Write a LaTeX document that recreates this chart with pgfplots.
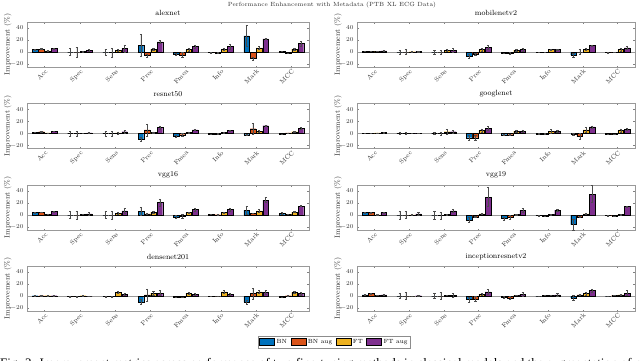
\documentclass[border=0pt]{standalone}
\usepackage{pgfplots}
\pgfplotsset{compat=1.18}
\usepackage{pgfplotstable}
\usepackage{fontspec}
\newfontfamily\capfont{Liberation Serif}

\definecolor{cBN}{RGB}{0,114,189}
\definecolor{cBNa}{RGB}{217,83,25}
\definecolor{cFT}{RGB}{237,177,32}
\definecolor{cFTa}{RGB}{126,47,142}

% columns: category, value and error for BN, BN aug, FT, FT aug
\pgfplotstableread{
x bn bne bna bnae ft fte fta ftae
1 4 0.5 5 1 2 0.5 6 1
2 0 6 0 8 1 0.5 3 2
3 0 5 -1 8 3 2 6 6
4 11 18 -6 2 5 2 17 3
5 -4 2 -5 4 4 2 9 3
6 -1 0.5 -1.5 0.5 5 2 9 4
7 27 17 -11 3 7 2 22 1
8 1.5 0.5 -2 0.5 5 2 14 4
}\alexnet
\pgfplotstableread{
x bn bne bna bnae ft fte fta ftae
1 1 0.3 1.5 0.3 1 0.3 2 0.5
2 0 3 0 4 0.5 0.3 1 1
3 0 3 0 3 3 1 3 3
4 -7 3 -4 2 4 2 8 3
5 -2 0.5 -2 1 3 1 4 2
6 -0.5 0.3 -0.5 0.3 4 1 4 1
7 -5 3 0 4 5 2 11 1
8 -1 0.3 -0.5 0.3 4 2 7 2
}\mobilenet
\pgfplotstableread{
x bn bne bna bnae ft fte fta ftae
1 2 0.5 3 0.5 1 0.3 4 0.5
2 0 4 0 4 0.5 0.3 1 1
3 0 4 0 4 1 2 3 2
4 -9 3 6 10 2 1 10 2
5 -4 2 -2 2 2 1 6 1
6 -1 0.3 -0.5 0.3 2 1 5 1
7 -2 0.5 8 9 4 1 13 1
8 -1 0.3 1 0.3 3 1 9 1
}\resnet
\pgfplotstableread{
x bn bne bna bnae ft fte fta ftae
1 0.5 0.3 0.5 0.3 1 0.3 1.5 0.3
2 0 1.5 0 1.5 0.5 0.3 0.5 0.3
3 0 1.5 0 2 3 4 3 2
4 -7 4 -7 4 5 3 9 3
5 -2 0.5 -2 0.5 4 2 4 2
6 -0.5 0.3 -0.5 0.3 4 3 4 2
7 -1 2 -5 5 6 4 11 2
8 -1 0.3 -1.5 0.3 5 3 7 2
}\googlenet
\pgfplotstableread{
x bn bne bna bnae ft fte fta ftae
1 4 0.5 5 0.5 1.5 0.3 6 0.5
2 0 6 0 7 1 0.3 2 2
3 0 6 0 7 3 1 7 4
4 6 7 2 0.5 5 2 21 6
5 -3 3 -2 3 4 1 9 2
6 1 0.3 0.5 0.3 4 1 9 2
7 8 7 3 0.5 7 2 25 4
8 3 2 1 0.3 5 1 15 1
}\vggA
\pgfplotstableread{
x bn bne bna bnae ft fte fta ftae
1 4 1 4 1 0.3 0.3 4 0.5
2 0 7 0 6 0.3 0.3 2 2
3 0 7 -1 6 1 0.5 7 3
4 -8 4 -3 1 2 1 30 16
5 -6 3 -4 3 1 0.5 8 3
6 -1 0.3 -1.5 0.3 1 0.5 8 2
7 -16 9 -3 1 2 0.5 35 14
8 -1 0.3 -2 0.3 1 0.5 14 1
}\vggB
\pgfplotstableread{
x bn bne bna bnae ft fte fta ftae
1 0.5 0.3 0.5 0.3 0.5 0.3 0.5 0.3
2 -1 0.3 -1 0.3 0.5 0.3 0 0.3
3 -1 0.3 -1 0.3 6 2 3 2
4 -10 4 2 10 5 3 5 4
5 -2 0.3 -2 0.3 5 2 3 1
6 -0.5 0.3 0 0.3 7 2 3 2
7 -10 3 4 9 7 3 6 3
8 -2 0.3 0.5 0.3 6 2 4 2
}\densenet
\pgfplotstableread{
x bn bne bna bnae ft fte fta ftae
1 2 0.5 4 1 1 0.3 2 0.3
2 0 4 0 6 0 0.3 0.5 1
3 0 4 0 6 1 0.3 1 3
4 -6 4 -5 4 3 1 7 4
5 -2 2 -3 3 1 0.3 3 3
6 0 0.3 1 0.3 1 0.3 2 2
7 -3 4 2 1 4 3 9 3
8 0 0.3 1 0.3 2 1 5 4
}\inception

\pgfplotsset{
  panel/.style={
    scale only axis, height=45pt, anchor=north west,
    xmin=0.5, xmax=8.5, ymin=-25, ymax=50,
    xtick={1,...,8},
    xticklabels={Acc,Spec,Sens,Prec,Fmea,Info,Mark,MCC},
    ytick={-20,0,20,40},
    x tick label style={rotate=45, anchor=north east, inner sep=1pt,
      font=\fontsize{6.5}{7}\selectfont, text=black!80},
    y tick label style={font=\fontsize{6.5}{7}\selectfont, text=black!80},
    ylabel={Improvement (\%)},
    every axis y label/.style={at={(axis description cs:-0.068,0.5)},
      rotate=90, anchor=center, font=\fontsize{7.5}{8}\selectfont, text=black!80},
    title style={font=\fontsize{7.5}{8}\selectfont, yshift=-3pt},
    axis line style={black!40, line width=0.4pt},
    tick style={black!50, line width=0.3pt},
    major tick length=1.5pt, tick align=inside,
  },
  bars/.style={ybar, bar width=0.16, bar shift=0pt, draw=black, line width=0.3pt,
    legend image code/.code={\draw[##1, draw=black, line width=0.3pt]
      (0pt,-3.5pt) rectangle (15pt,3.5pt);},
    error bars/y dir=both, error bars/y explicit,
    error bars/error bar style={black!70, line width=0.35pt},
    error bars/error mark options={rotate=90, black!70, mark size=1.1pt,
      line width=0.35pt}},
  zero/.style={black!40, line width=0.4pt, forget plot},
}

% one panel from one table: four bars per category, side by side
\newcommand{\panelplots}[1]{%
  \addplot[zero] coordinates {(0.5,0) (8.5,0)};
  \addplot[bars, fill=cBN] table[x expr=\thisrow{x}-0.27, y=bn, y error=bne] {#1};
  \addplot[bars, fill=cBNa] table[x expr=\thisrow{x}-0.09, y=bna, y error=bnae] {#1};
  \addplot[bars, fill=cFT] table[x expr=\thisrow{x}+0.09, y=ft, y error=fte] {#1};
  \addplot[bars, fill=cFTa] table[x expr=\thisrow{x}+0.27, y=fta, y error=ftae] {#1};
}

\begin{document}
\begin{tikzpicture}
\useasboundingbox (0pt,0pt) rectangle (640pt,-360pt);
\node[font=\fontsize{6}{7}\selectfont, text=black!80] at (332pt,-4.5pt)
  {Performance Enhancement with Metadata (PTB XL ECG Data)};

\begin{axis}[panel, at={(27pt,-22pt)}, width=282pt, title={alexnet}]
\panelplots{\alexnet}
\end{axis}
\begin{axis}[panel, at={(357pt,-22pt)}, width=278pt, title={mobilenetv2}]
\panelplots{\mobilenet}
\end{axis}
\begin{axis}[panel, at={(27pt,-103.5pt)}, width=282pt, title={resnet50}]
\panelplots{\resnet}
\end{axis}
\begin{axis}[panel, at={(357pt,-103.5pt)}, width=278pt, title={googlenet}]
\panelplots{\googlenet}
\end{axis}
\begin{axis}[panel, at={(27pt,-185pt)}, width=282pt, title={vgg16}]
\panelplots{\vggA}
\end{axis}
\begin{axis}[panel, at={(357pt,-185pt)}, width=278pt, title={vgg19}]
\panelplots{\vggB}
\end{axis}
\begin{axis}[panel, at={(27pt,-266pt)}, width=282pt, title={densenet201},
  legend columns=4,
  legend style={at={(1.09,-0.69)}, anchor=center, draw=black!45, line width=0.3pt,
    font=\fontsize{6}{7}\selectfont, inner sep=1pt, outer sep=0pt,
    /tikz/every even column/.append style={column sep=1.5pt}}]
\panelplots{\densenet}
\legend{BN, BN aug, FT, FT aug}
\end{axis}
\begin{axis}[panel, at={(357pt,-266pt)}, width=278pt, title={inceptionresnetv2}]
\panelplots{\inception}
\end{axis}

\node[anchor=north west, inner sep=0pt, font=\capfont\fontsize{13}{15}\selectfont]
  at (0pt,-358.5pt) {Fig. 3: Improvement metrics across performance of two fine-tuning methods in classical models and the augmentation of metadata in ECG};
\end{tikzpicture}
\end{document}
